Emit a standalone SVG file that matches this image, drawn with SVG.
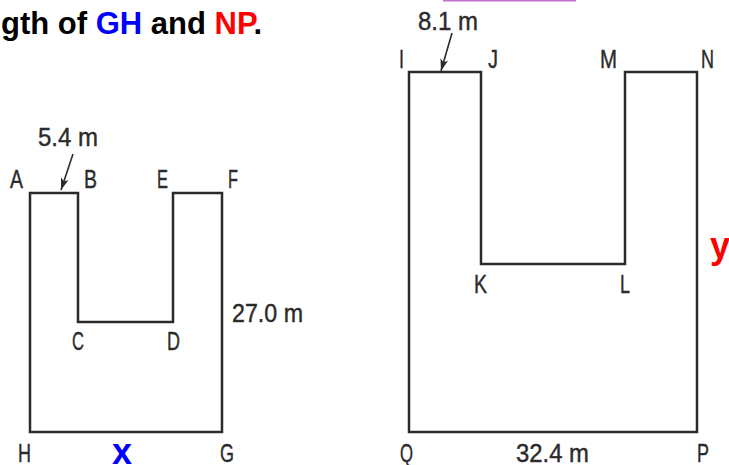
<svg xmlns="http://www.w3.org/2000/svg" width="729" height="465" viewBox="0 0 729 465">
<style>
.shape{fill:none;stroke:#2b2b2b;stroke-width:2.5;stroke-linejoin:miter}
.lbl{font-family:"Liberation Sans Narrow","Liberation Sans",Arial,sans-serif;font-size:25px;fill:#2b2b2b;stroke:#2b2b2b;stroke-width:0.4}
.hd{font-family:"Liberation Sans",Arial,sans-serif;font-weight:bold;font-size:31px;fill:#000}
.var{font-family:"Liberation Sans",Arial,sans-serif;font-weight:bold;font-size:36px}
.arr{stroke:#2b2b2b;stroke-width:1.6;fill:none}
</style>
<defs>
<marker id="ah" viewBox="0 0 12 8" refX="12" refY="4" markerWidth="13" markerHeight="8" orient="auto" markerUnits="userSpaceOnUse">
<path d="M0,0 L12,4 L0,8 L3,4 z" fill="#2b2b2b"/>
</marker>
</defs>
<rect width="729" height="465" fill="#fff"/>
<line x1="443" y1="0.5" x2="576" y2="0.5" stroke="#c070c8" stroke-width="2"/>
<text class="hd" x="1" y="34">gth of <tspan fill="#0000ff">GH</tspan> and <tspan fill="#ff0000">NP</tspan>.</text>

<g id="left-figure">
<polygon class="shape" points="30,193 78,193 78,322 173,322 173,193 222,193 222,432 30,432"/>
<text class="lbl" x="10" y="188" textLength="13" lengthAdjust="spacingAndGlyphs">A</text>
<text class="lbl" x="84" y="188" textLength="13" lengthAdjust="spacingAndGlyphs">B</text>
<text class="lbl" x="157" y="188" textLength="11" lengthAdjust="spacingAndGlyphs">E</text>
<text class="lbl" x="228" y="188" textLength="10" lengthAdjust="spacingAndGlyphs">F</text>
<text class="lbl" x="72" y="350" textLength="12" lengthAdjust="spacingAndGlyphs">C</text>
<text class="lbl" x="167" y="350" textLength="13" lengthAdjust="spacingAndGlyphs">D</text>
<text class="lbl" x="18" y="462" textLength="13" lengthAdjust="spacingAndGlyphs">H</text>
<text class="lbl" x="220" y="462" textLength="14" lengthAdjust="spacingAndGlyphs">G</text>
<text class="lbl" x="38" y="146" textLength="60" lengthAdjust="spacingAndGlyphs">5.4 m</text>
<text class="lbl" x="232" y="322" textLength="71" lengthAdjust="spacingAndGlyphs">27.0 m</text>
<text class="var" x="112" y="464" fill="#0000ff">x</text>
</g>

<g id="right-figure">
<polygon class="shape" points="409,72 481,72 481,264 625,264 625,72 697,72 697,432 409,432"/>
<text class="lbl" x="399" y="68" textLength="5" lengthAdjust="spacingAndGlyphs">I</text>
<text class="lbl" x="488" y="68" textLength="10" lengthAdjust="spacingAndGlyphs">J</text>
<text class="lbl" x="600" y="68" textLength="17" lengthAdjust="spacingAndGlyphs">M</text>
<text class="lbl" x="701" y="68" textLength="13" lengthAdjust="spacingAndGlyphs">N</text>
<text class="lbl" x="474" y="293" textLength="13" lengthAdjust="spacingAndGlyphs">K</text>
<text class="lbl" x="620" y="293" textLength="10" lengthAdjust="spacingAndGlyphs">L</text>
<text class="lbl" x="400" y="462" textLength="13" lengthAdjust="spacingAndGlyphs">Q</text>
<text class="lbl" x="697" y="462" textLength="12" lengthAdjust="spacingAndGlyphs">P</text>
<text class="lbl" x="418" y="30" textLength="60" lengthAdjust="spacingAndGlyphs">8.1 m</text>
<text class="lbl" x="516" y="462" textLength="73" lengthAdjust="spacingAndGlyphs">32.4 m</text>
<text class="var" x="710" y="258" fill="#ff0000">y</text>
</g>

<g id="connectors">
<line class="arr" x1="73" y1="154" x2="61" y2="190" marker-end="url(#ah)"/>
<line class="arr" x1="452" y1="33" x2="441" y2="71" marker-end="url(#ah)"/>
</g>
</svg>
